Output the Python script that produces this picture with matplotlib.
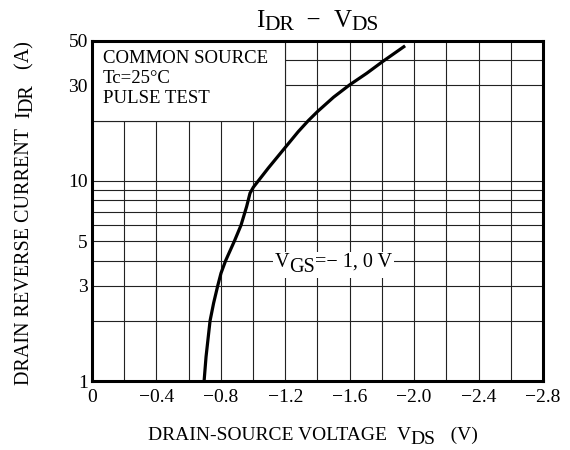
import numpy as np
import matplotlib
matplotlib.use("Agg")
import matplotlib.pyplot as plt
from matplotlib.patches import Rectangle
from matplotlib.transforms import IdentityTransform

# curve (VGS = -1, 0 V)
vds = [-0.696, -0.708, -0.733, -0.755, -0.781, -0.801, -0.830, -0.884, -0.925, -0.960,
       -0.981, -1.002, -1.095, -1.2, -1.28, -1.343, -1.4, -1.5, -1.6, -1.706, -1.805, -1.944]
idr = [1.0, 1.32, 2.0, 2.45, 3.0, 3.46, 4.0, 5.0, 6.0, 7.44,
       8.68, 9.3, 11.6, 14.7, 17.6, 20.0, 22.2, 26.2, 30.2, 34.5, 39.5, 47.3]

x_ticks = [0, -0.4, -0.8, -1.2, -1.6, -2.0, -2.4, -2.8]
x_labels = ["0", "\u22120.4", "\u22120.8", "\u22121.2", "\u22121.6", "\u22122.0", "\u22122.4", "\u22122.8"]
y_ticks = [1, 3, 5, 10, 30, 50]
x_grid = [-0.2 * i for i in range(1, 14)]
y_grid = [2, 3, 4, 5, 6, 7, 8, 9, 10, 20, 30, 40]

FS = 13.5     # conditions box
FL = 14.5     # axis labels
plt.rcParams["font.family"] = ["Liberation Serif", "DejaVu Serif"]

fig = plt.figure(figsize=(5.7, 4.5), dpi=100)
ax = fig.add_axes([0.1614, 0.1533, 0.7912, 0.7556])
ax.set_yscale("log")
ax.set_xlim(0, -2.8)
ax.set_ylim(1, 50)
R = fig.canvas.get_renderer()


def rich(x0, y0, parts, rot=0, ha="left", back=False, z=6):
    """place text pieces (text, size, baseline drop in px) one after another, pixel coords"""
    arts = []
    for s, size, drop in parts:
        t = fig.text(0, 0, s, fontsize=size, rotation=rot, rotation_mode="anchor",
                     ha="left", va="baseline", transform=IdentityTransform(), zorder=z)
        bb = t.get_window_extent(R)
        arts.append((t, bb.height if rot else bb.width, drop))
    total = sum(a[1] for a in arts)
    pos = -total / 2 if ha == "center" else 0.0
    for t, w, drop in arts:
        if rot:
            t.set_position((x0 + drop, y0 + pos))
        else:
            t.set_position((x0 + pos, y0 - drop))
        pos += w
    if back:
        bbs = [t.get_window_extent(R) for t, _, _ in arts]
        x1 = min(b.x0 for b in bbs) - 2; x2 = max(b.x1 for b in bbs) + 2
        y1 = min(b.y0 for b in bbs) - 1; y2 = max(b.y1 for b in bbs) + 1
        fig.patches.append(Rectangle((x1, y1), x2 - x1, y2 - y1, transform=IdentityTransform(),
                                     facecolor="white", edgecolor="none", zorder=z - 1))
    return arts


# grid
for gx in x_grid:
    ax.axvline(gx, color="#222222", lw=0.8, zorder=1)
for gy in y_grid:
    ax.axhline(gy, color="#222222", lw=0.8, zorder=1)

# white box hiding grid behind the conditions text
ax.add_patch(Rectangle((0, 20), -1.2, 30, facecolor="white", edgecolor="#222222",
                       lw=0.8, zorder=2))
H = 450
rich(103, H - 63, [("COMMON SOURCE", FS, 0)])
rich(103, H - 83, [("Tc=25\u00b0C", FS, 0)])
rich(103, H - 103, [("PULSE TEST", FS, 0)])

ax.plot(vds, idr, color="black", lw=2.3, zorder=4, solid_capstyle="butt")

ax.set_xticks(x_ticks)
ax.set_xticklabels(x_labels)
ax.set_yticks(y_ticks)
ax.set_yticklabels([str(v) for v in y_ticks])
ax.minorticks_off()
ax.tick_params(length=0, labelsize=14)
ax.tick_params(axis="x", pad=6)
ax.tick_params(axis="y", pad=3)
for s in ax.spines.values():
    s.set_linewidth(2.2)
    s.set_zorder(5)

# title, labels with datasheet-style subscripts
rich(317.5, H - 27, [("I", 18, 0), ("DR", 15.5, 3), ("  \u2212  ", 18, 0),
                     ("V", 18, 0), ("DS", 15.5, 3)], ha="center")
rich(148, H - 440, [("DRAIN-SOURCE VOLTAGE  ", 14, 0), ("V", 14, 0), ("DS", 14, 4),
                    ("   (V)", 14, 0)])
rich(29, H - 385, [("DRAIN REVERSE CURRENT  ", FL, 0), ("I", FL, 0), ("DR", FL, 3),
                   ("   (A)", FL, 0)], rot=90)
rich(275, H - 267, [("V", FL, 0), ("GS", FL, 5), ("=\u2212 1, 0 V", FL, 0)], back=True)

fig.savefig("out.png", dpi=100)
